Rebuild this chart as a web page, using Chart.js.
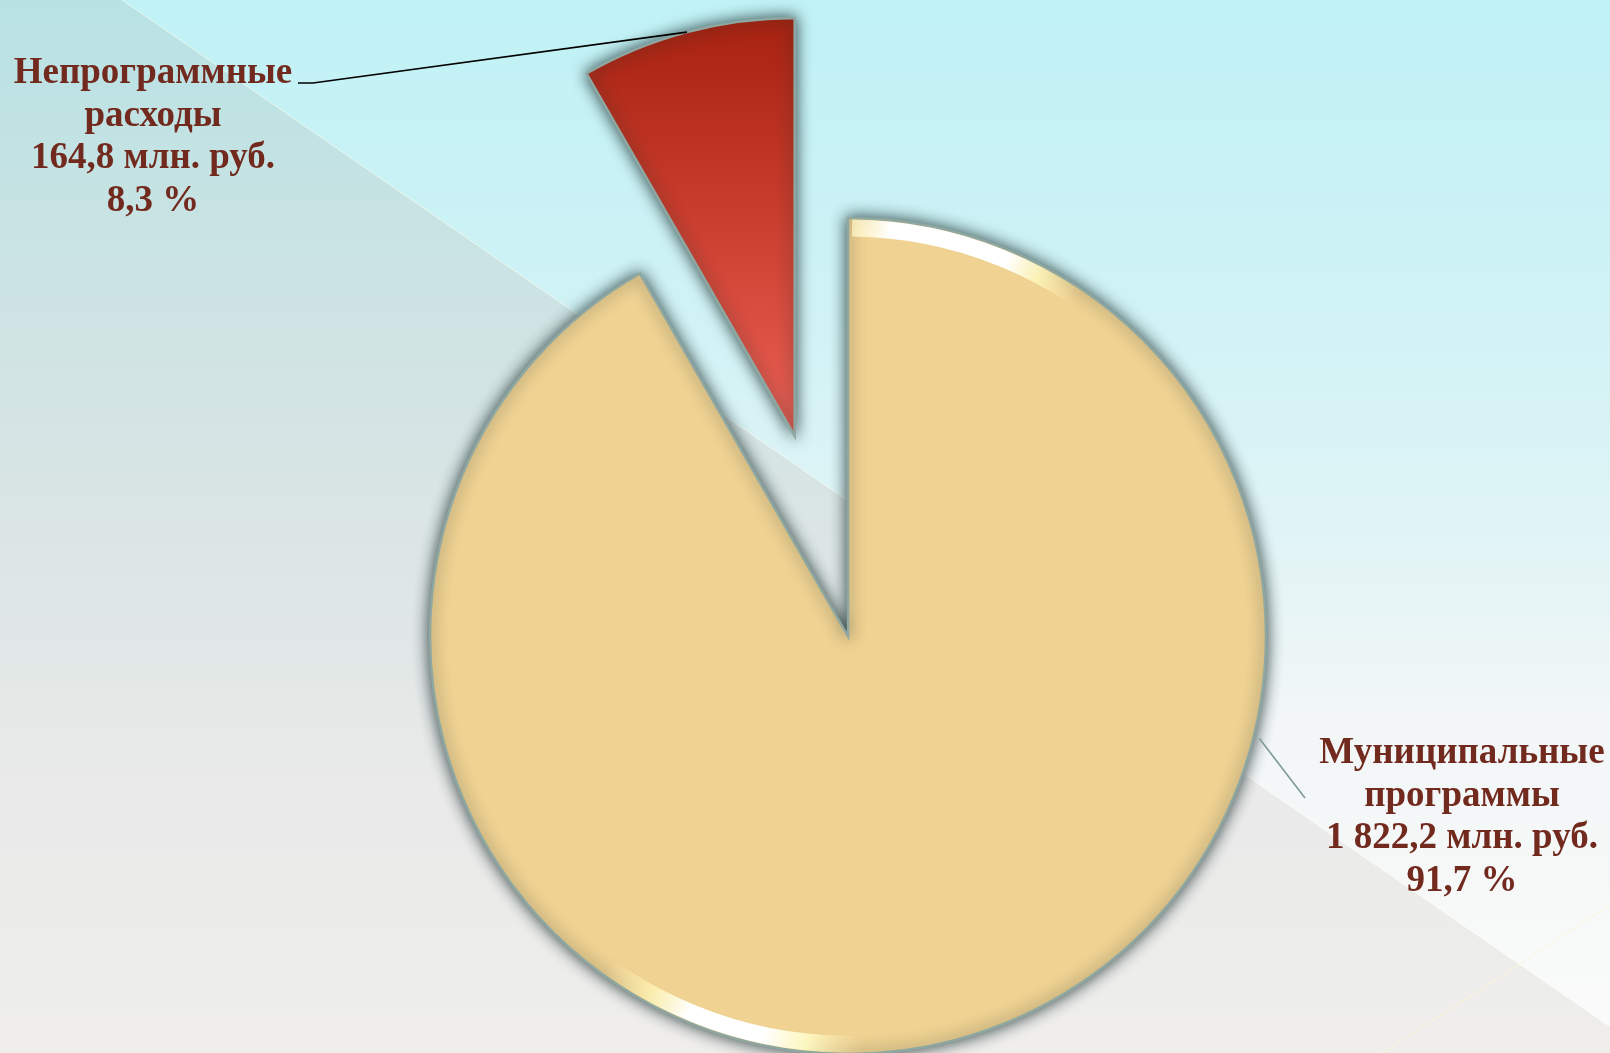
<!DOCTYPE html>
<html>
<head>
<meta charset="utf-8">
<script src="https://cdn.jsdelivr.net/npm/chart.js@4.4.0/dist/chart.umd.min.js"></script>
<style>
  html, body { margin: 0; padding: 0; overflow: hidden; }
  #wrap { position: relative; width: 1610px; height: 1053px; }
</style>
</head>
<body>
<div id="wrap"><canvas id="pie"></canvas></div>
<script>
// data (млн. руб.)
const categories = ['Муниципальные программы', 'Непрограммные расходы'];
const amounts = [1822.2, 164.8];
const amountLabels = ['1 822,2 млн. руб.', '164,8 млн. руб.'];
const shareLabels = ['91,7 %', '8,3 %'];
const nameLines = [['Муниципальные', 'программы'], ['Непрограммные', 'расходы']];

// look
const sliceColors = ['#f0d292', '#d2402f'];
const explode = [0, 207];
const RADIUS = 418;
const TEXT_COLOR = '#722a1e';
const labelPos = [
  { x: 1462, y: 763, leaderAngle: 104, leaderEnd: [1305, 798], leaderColor: '#7f9a95' },
  { x: 153, y: 83, leaderEnd: [298, 83], leaderKnee: [313, 83], leaderColor: '#000' }
];

function sliceMid(i) {
  const total = amounts.reduce((s, v) => s + v, 0);
  let a = -Math.PI / 2;
  for (let k = 0; k < i; k++) a += amounts[k] / total * 2 * Math.PI;
  return a + amounts[i] / total * Math.PI;
}

const bgPlugin = {
  id: 'bg',
  beforeDraw(chart) {
    const {ctx, width, height} = chart;
    ctx.save();
    let g = ctx.createLinearGradient(0, 0, 0, height);
    g.addColorStop(0, '#c0f2f6');
    g.addColorStop(0.3, '#d0f2f5');
    g.addColorStop(0.5, '#e0f4f6');
    g.addColorStop(0.68, '#f2f6f6');
    g.addColorStop(1, '#fbfbfb');
    ctx.fillStyle = g;
    ctx.fillRect(0, 0, width, height);

    // darker band under the diagonal
    const slope = 0.69;
    ctx.beginPath();
    ctx.moveTo(0, 0);
    ctx.lineTo(122, 0);
    ctx.lineTo(width, (width - 122) * slope);
    ctx.lineTo(width, height);
    ctx.lineTo(0, height);
    ctx.closePath();
    g = ctx.createLinearGradient(0, 0, 0, height);
    g.addColorStop(0, '#b8e2e4');
    g.addColorStop(0.25, '#cbe3e3');
    g.addColorStop(0.5, '#dbe5e5');
    g.addColorStop(0.75, '#e9eae9');
    g.addColorStop(1, '#efeeec');
    ctx.fillStyle = g;
    ctx.fill();

    ctx.lineWidth = 1;
    ctx.strokeStyle = 'rgba(255,255,240,0.6)';
    ctx.beginPath();
    ctx.moveTo(122, 0);
    ctx.lineTo(width, (width - 122) * slope);
    ctx.stroke();
    ctx.strokeStyle = 'rgba(250,245,215,0.9)';
    ctx.beginPath();
    ctx.moveTo(1383, height);
    ctx.lineTo(width, 905);
    ctx.stroke();
    ctx.restore();
  }
};

const explodePlugin = {
  id: 'explode',
  afterDatasetsUpdate(chart) {
    chart.getDatasetMeta(0).data.forEach((arc, i) => {
      if (!explode[i]) return;
      const mid = (arc.startAngle + arc.endAngle) / 2;
      arc.x += Math.cos(mid) * explode[i];
      arc.y += Math.sin(mid) * explode[i];
    });
  }
};

const shadowPlugin = {
  id: 'shadow',
  beforeDatasetDraw(chart) {
    const ctx = chart.ctx;
    ctx.save();
    ctx.shadowColor = 'rgba(30,50,50,0.9)';
    ctx.shadowBlur = 15;
  },
  afterDatasetDraw(chart) {
    chart.ctx.restore();
    // light bevel on the big slice rim
    const arc = chart.getDatasetMeta(0).data[0];
    const ctx = chart.ctx;
    const g = ctx.createConicGradient(-Math.PI / 2, arc.x, arc.y);
    const st = (deg, c) => g.addColorStop(deg / 360, c);
    st(0, 'rgba(255,246,190,0.7)');
    st(6, 'rgba(255,255,255,1)');
    st(23, 'rgba(255,255,255,1)');
    st(28, 'rgba(255,250,190,0.8)');
    st(34, 'rgba(255,240,180,0)');
    st(178, 'rgba(255,240,180,0)');
    st(186, 'rgba(255,252,200,0.9)');
    st(192, 'rgba(255,255,255,1)');
    st(203, 'rgba(255,255,255,1)');
    st(209, 'rgba(255,245,180,0.8)');
    st(216, 'rgba(255,240,180,0)');
    st(360, 'rgba(255,240,180,0)');
    ctx.save();
    ctx.beginPath();
    ctx.arc(arc.x, arc.y, arc.outerRadius - 10, arc.startAngle + 0.01, arc.endAngle - 0.01);
    ctx.strokeStyle = g;
    ctx.lineWidth = 17;
    ctx.stroke();
    ctx.restore();
  }
};

const labelPlugin = {
  id: 'sliceLabels',
  afterDraw(chart) {
    const ctx = chart.ctx;
    const arcs = chart.getDatasetMeta(0).data;
    ctx.save();
    labelPos.forEach((p, i) => {
      const arc = arcs[i];
      ctx.beginPath();
      ctx.lineWidth = 1.6;
      ctx.strokeStyle = p.leaderColor;
      if (p.leaderKnee) {
        const mid = (arc.startAngle + arc.endAngle) / 2;
        ctx.moveTo(p.leaderEnd[0], p.leaderEnd[1]);
        ctx.lineTo(p.leaderKnee[0], p.leaderKnee[1]);
        ctx.lineTo(arc.x + Math.cos(mid) * arc.outerRadius, arc.y + Math.sin(mid) * arc.outerRadius);
      } else {
        const a = -Math.PI / 2 + p.leaderAngle * Math.PI / 180;
        ctx.moveTo(arc.x + Math.cos(a) * (arc.outerRadius + 6), arc.y + Math.sin(a) * (arc.outerRadius + 6));
        ctx.lineTo(p.leaderEnd[0], p.leaderEnd[1]);
      }
      ctx.stroke();

      const lines = nameLines[i].concat([amountLabels[i], shareLabels[i]]);
      ctx.fillStyle = TEXT_COLOR;
      ctx.font = 'bold 37px "Liberation Serif", "Times New Roman", serif';
      ctx.textAlign = 'center';
      ctx.textBaseline = 'alphabetic';
      lines.forEach((t, k) => ctx.fillText(t, p.x, p.y + k * 42.5));
    });
    ctx.restore();
  }
};

new Chart(document.getElementById('pie'), {
  type: 'pie',
  data: {
    labels: categories,
    datasets: [{
      data: amounts,
      backgroundColor(c) {
        const i = c.dataIndex;
        const area = c.chart.chartArea;
        if (i !== 1 || !area) return sliceColors[i];
        const cy = (area.top + area.bottom) / 2 + Math.sin(sliceMid(i)) * explode[i];
        const g = c.chart.ctx.createLinearGradient(0, cy - RADIUS, 0, cy);
        g.addColorStop(0, '#a72210');
        g.addColorStop(0.45, '#c83c2c');
        g.addColorStop(1, '#ec6156');
        return g;
      },
      borderColor: '#8ea7a1',
      borderWidth: 2.5,
      borderJoinStyle: 'miter'
    }]
  },
  options: {
    responsive: true,
    maintainAspectRatio: false,
    animation: false,
    events: [],
    radius: RADIUS,
    layout: { padding: { left: 86, right: 0, top: 219, bottom: 0 } },
    plugins: {
      legend: { display: false },
      tooltip: { enabled: false }
    }
  },
  plugins: [bgPlugin, explodePlugin, shadowPlugin, labelPlugin]
});
</script>
</body>
</html>
